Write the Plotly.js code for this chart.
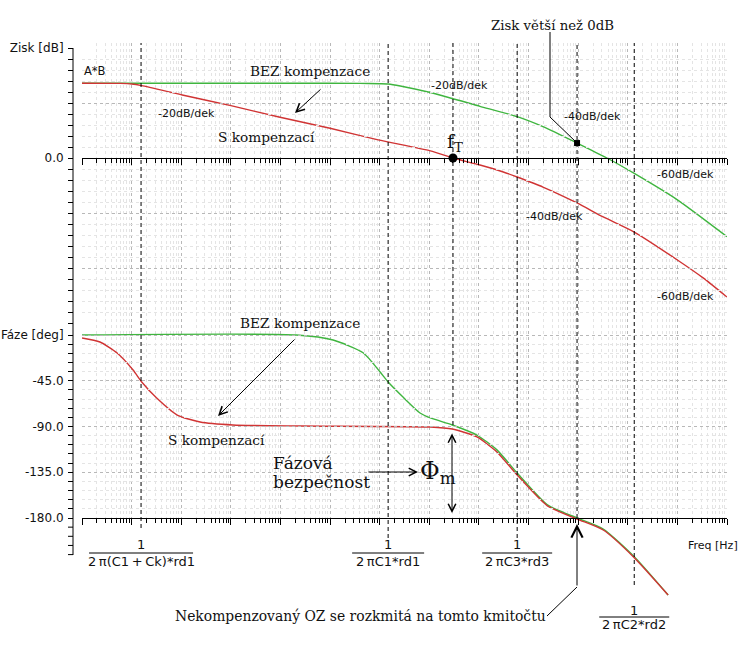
<!DOCTYPE html>
<html><head><meta charset="utf-8">
<script src="https://cdn.plot.ly/plotly-3.0.1.min.js"></script>
<style>html,body{margin:0;padding:0;background:#fff}</style>
</head><body><div id="chart" style="width:751px;height:646px"></div>
<script>
// ---------------- data ----------------
// Gain, without compensation (BEZ kompenzace) [Hz, dB]
const freqBezGain = [1, 2.5e4, 4.0e5, 1.0e6, 1.48e6, 2.6e6, 1.05e7, 1.05e8, 5.9e8, 1.95e9, 9.5e9, 3.8e10, 1.35e11, 1.0e12, 1.0e13];
const gainBez     = [68, 68, 67.8, 67.5, 67.3, 65.5, 59.5, 47, 37.6, 28.5, 13.6, 0, -14, -38, -71.5];
// Gain, with compensation (S kompenzací)
const freqSGain = [1, 5.9, 10, 16, 105, 955, 9.8e3, 1.0e5, 9.3e5, 1.05e7, 3.0e7, 1.05e8, 3.1e8, 5.9e8, 1.95e9, 9.5e9, 3.2e10, 1.35e11, 1.0e12, 3.3e12, 1.0e13];
const gainS     = [68, 67.8, 67.3, 65.8, 57.3, 47.8, 37, 27, 16.5, 6.5, 0, -6.4, -12.7, -17.3, -26.4, -40.9, -53.6, -67.3, -92.7, -109, -126.4];
// Phase, without compensation [Hz, deg]
const freqBezPhase = [1, 2.1e4, 1.15e5, 4.7e5, 1.02e6, 1.48e6, 2.95e6, 6.5e6, 1.05e7, 2.9e7, 9.1e7, 2.3e8, 5.9e8, 2.4e9, 9.5e9, 3.2e10, 1.35e11, 6.5e11];
const phaseBez     = [0, 0, -4.9, -17.7, -36.4, -46.2, -61, -76.7, -81.6, -88.5, -98.4, -113, -135.7, -167, -180, -190.8, -218, -255.7];
// Phase, with compensation
const freqSPhase = [1, 2.3, 5.1, 10.7, 16, 32, 83, 240, 1.1e3, 2.5e4, 1.05e7, 2.9e7, 9.1e7, 2.3e8, 5.9e8, 2.4e9, 9.5e9, 3.2e10, 1.35e11, 6.5e11];
const phaseS     = [-3, -6.9, -17.7, -34.4, -46.2, -62, -78.7, -85.6, -88.5, -89.5, -90.5, -92.5, -100.3, -115, -137.7, -168, -181, -191.8, -219, -255.7];
// Pole / marker frequencies (dashed lines)
const poleFreqs = [15.5, 1.48e6, 3.0e7, 5.9e8, 9.5e9, 1.35e11];
// f_T point and "gain > 0 dB" point
const fTFreq = [3.0e7], fTGain = [0];
const sqFreq = [9.5e9], sqGain = [13.6];
// Tick labels
const gainTickVals = [-150, -100, -50, 0, 50, 100];
const gainTickText = ['', '', '', '0.0', '', 'Zisk [dB]'];
const phaseTickVals = [0, -45, -90, -135, -180];
const phaseTickText = ['Fáze [deg]', '-45.0', '-90.0', '-135.0', '-180.0'];
const slopeLabels = ['-20dB/dek', '-20dB/dek', '-40dB/dek', '-60dB/dek', '-40dB/dek', '-60dB/dek'];
const fracDenoms = ['2\u2009π(C1\u2009+\u2009Ck)*rd1', '2\u2009πC1*rd1', '2\u2009πC3*rd3', '2\u2009πC2*rd2'];

// ---------------- layout helpers ----------------
const L = 73, R = 727, T = 43, B = 600;
const px = x => (x - L) / (R - L);
const py = y => (B - y) / (B - T);
const xdom = [px(82), 1];
const decadePx = (R - 82) / 13;
const sans = 'DejaVu Sans, sans-serif';
const serif = 'DejaVu Serif, serif';
const GREEN = '#3fb53f', RED = '#d03434';
const degPx = 183 / 180;

const decades = []; for (let k = 0; k <= 13; k++) decades.push(Math.pow(10, k));
const minorVals = []; for (let k = 0; k <= 12; k++) for (let m = 2; m <= 9; m++) minorVals.push(m * Math.pow(10, k));
const gainMinor = []; for (let v = -150; v <= 100; v += 10) gainMinor.push(v);
const phaseMinor = []; for (let v = -180; v <= 0; v += 9) phaseMinor.push(v);

const dummy = (xa, ya, yv) => ({x: [1], y: [yv], xaxis: xa, yaxis: ya, mode: 'markers', marker: {opacity: 0}, hoverinfo: 'skip', showlegend: false});
const curve = (xs, ys, ya, col) => ({x: xs, y: ys, xaxis: 'x2', yaxis: ya, mode: 'lines', line: {color: col, width: 1.4, shape: 'spline', smoothing: 0.6}, hoverinfo: 'skip', showlegend: false});

const traces = [
  dummy('x', 'y3', 0.5),
  dummy('x3', 'y', 0),
  dummy('x4', 'y2', -90),
  curve(freqBezGain, gainBez, 'y', GREEN),
  curve(freqSGain, gainS, 'y', RED),
  curve(freqBezPhase, phaseBez, 'y2', GREEN),
  curve(freqSPhase, phaseS, 'y2', RED),
  {x: fTFreq, y: fTGain, xaxis: 'x2', yaxis: 'y', mode: 'markers', marker: {color: '#000', size: 9, symbol: 'circle'}, showlegend: false, hoverinfo: 'skip'},
  {x: sqFreq, y: sqGain, xaxis: 'x2', yaxis: 'y', mode: 'markers', marker: {color: '#000', size: 6, symbol: 'square'}, showlegend: false, hoverinfo: 'skip'}
];

const lineAxis = pos => ({type: 'log', range: [0, 13], domain: xdom, anchor: 'free', position: pos, side: 'bottom',
  showline: true, linecolor: '#000', linewidth: 1, ticks: 'outside', ticklen: 6, tickwidth: 1, tickcolor: '#000',
  tickmode: 'array', tickvals: decades, showticklabels: false, showgrid: false, zeroline: false,
  minor: {tickmode: 'array', tickvals: minorVals, ticks: 'outside', ticklen: 4, tickwidth: 1, tickcolor: '#000', showgrid: false}});

// shapes
const shapes = [];
const dashBottoms = [528, 538, 425, 538, 518, 585];
poleFreqs.forEach((f, i) => shapes.push({type: 'line', xref: 'x', yref: 'paper', x0: f, x1: f, y0: py(dashBottoms[i]), y1: py(43), line: {color: '#000', width: 1, dash: '4px,3px'}}));
// y axis line & extra ticks below -180
shapes.push({type: 'line', xref: 'paper', yref: 'paper', x0: 0, x1: 0, y0: py(555), y1: py(48), line: {color: '#000', width: 1}});
[-189, -198, -207, -216].forEach(v => shapes.push({type: 'line', xref: 'paper', yref: 'y2', x0: px(68), x1: 0, y0: v, y1: v, line: {color: '#000', width: 1}}));
// leader lines
const seg = (x0, y0, x1, y1) => shapes.push({type: 'line', xref: 'paper', yref: 'paper', x0: px(x0), y0: py(y0), x1: px(x1), y1: py(y1), line: {color: '#000', width: 1}});
seg(550, 32, 550, 117); seg(550, 117, 576, 142);
seg(547, 616, 577, 587);

// fractions
const fracPoles = [0, 1, 3, 5];
const fracHalf = [52, 36, 35, 35];
const fracY = [[544, 553, 561], [544, 553, 561], [544, 553, 561], [610, 617, 624]];
const annotations = [];
fracPoles.forEach((pi, i) => {
  const f = poleFreqs[pi];
  const k = Math.pow(10, fracHalf[i] / decadePx);
  shapes.push({type: 'line', xref: 'x', x0: f / k, x1: f * k, yref: 'paper', y0: py(fracY[i][1]), y1: py(fracY[i][1]), line: {color: '#000', width: 1}});
  annotations.push({xref: 'x', yref: 'paper', x: Math.log10(f), y: py(fracY[i][0]), text: '1', showarrow: false, xanchor: 'center', yanchor: 'middle', font: {family: sans, size: 13, color: '#111'}});
  annotations.push({xref: 'x', yref: 'paper', x: Math.log10(f), y: py(fracY[i][2]), text: fracDenoms[i], showarrow: false, xanchor: 'center', yanchor: 'middle', font: {family: sans, size: 13, color: '#111'}});
});

const txt = (t, x, y, fam, size, anchor) => annotations.push({xref: 'paper', yref: 'paper', x: px(x), y: py(y), text: t, showarrow: false, xanchor: anchor || 'left', yanchor: 'middle', font: {family: fam, size: size, color: '#111'}, borderpad: 0});
// sans labels
txt('A*B', 83, 71, sans, 11.5);
const slopePos = [[157, 113], [430, 85], [563, 117], [656, 175], [525, 216], [656, 296]];
slopeLabels.forEach((s, i) => txt(s, slopePos[i][0], slopePos[i][1], sans, 11));
txt('Freq [Hz]', 687, 545, sans, 11);
// serif labels
txt('BEZ kompenzace', 249, 71, serif, 13.7);
txt('S kompenzací', 217, 137, serif, 13.7);
txt('Zisk větší než 0dB', 490, 25, serif, 13.3);
txt('BEZ kompenzace', 239, 323, serif, 13.7);
txt('S kompenzací', 167, 440, serif, 13.7);
txt('Fázová', 272, 463, serif, 17);
txt('bezpečnost', 272, 482, serif, 17);
txt('Nekompenzovaný OZ se rozkmitá na tomto kmitočtu', 174, 616, serif, 13.9);
txt('f<sub>T</sub>', 446, 142, serif, 19);
txt('Φ<sub>m</sub>', 419, 472, serif, 24);

// arrows
const arrow = (hx, hy, tx, ty, size, both) => annotations.push({xref: 'paper', yref: 'paper', x: px(hx), y: py(hy), ax: tx - hx, ay: ty - hy, text: '', showarrow: true, arrowhead: 5, startarrowhead: 5, arrowside: both ? 'end+start' : 'end', arrowsize: size, startarrowsize: size, arrowwidth: 1, arrowcolor: '#000', standoff: 0, startstandoff: 0});
arrow(295, 113, 322, 88, 1.6);
arrow(218, 416, 296, 338, 1.6);
arrow(418, 472, 367, 472, 1.5);
arrow(452, 513, 452, 432, 1.5, true);
arrow(577, 524, 577, 587, 2.2);

const phaseTopPx = 330;
const layout = {
  width: 751, height: 646,
  margin: {l: L, r: 751 - R, t: T, b: 646 - B, pad: 0},
  paper_bgcolor: '#fff', plot_bgcolor: 'rgba(0,0,0,0)', showlegend: false,
  font: {family: sans, size: 11, color: '#111'},
  xaxis: {type: 'log', range: [0, 13], domain: xdom, anchor: 'y3', tickmode: 'array', tickvals: decades, showticklabels: false, ticks: '', showline: false, zeroline: false,
    showgrid: true, gridcolor: '#b8b8b8', griddash: 'dot', gridwidth: 1,
    minor: {tickmode: 'array', tickvals: minorVals, ticks: '', showgrid: true, gridcolor: '#e4e4e4', gridwidth: 1}},
  yaxis3: {domain: [py(518), py(43)], range: [0, 1], anchor: 'x', showgrid: false, zeroline: false, showticklabels: false, ticks: '', showline: false},
  xaxis2: {type: 'log', range: [0, 13], domain: xdom, anchor: 'y', showgrid: false, zeroline: false, showticklabels: false, ticks: '', showline: false},
  xaxis3: lineAxis(py(158)),
  xaxis4: lineAxis(py(518)),
  yaxis: {domain: [py(323), py(48)], range: [-150, 100], anchor: 'free', position: 0, side: 'left',
    tickmode: 'array', tickvals: gainTickVals, ticktext: gainTickText, ticks: 'outside', ticklen: 5, tickwidth: 1, tickcolor: '#000',
    showline: false, zeroline: false, showgrid: true, gridcolor: '#b8b8b8', griddash: 'dot', gridwidth: 1,
    tickfont: {family: sans, size: 12, color: '#111'}, ticklabelstandoff: 2,
    minor: {tickmode: 'array', tickvals: gainMinor, ticks: 'outside', ticklen: 5, tickwidth: 1, tickcolor: '#000', showgrid: true, gridcolor: '#e4e4e4', gridwidth: 1}},
  yaxis2: {domain: [0, py(phaseTopPx)], range: [-(B - 335) / degPx, (335 - phaseTopPx) / degPx], anchor: 'free', position: 0, side: 'left',
    tickmode: 'array', tickvals: phaseTickVals, ticktext: phaseTickText, ticks: 'outside', ticklen: 5, tickwidth: 1, tickcolor: '#000',
    showline: false, zeroline: false, showgrid: true, gridcolor: '#b8b8b8', griddash: 'dot', gridwidth: 1,
    tickfont: {family: sans, size: 12, color: '#111'}, ticklabelstandoff: 2,
    minor: {tickmode: 'array', tickvals: phaseMinor, ticks: 'outside', ticklen: 5, tickwidth: 1, tickcolor: '#000', showgrid: true, gridcolor: '#e4e4e4', gridwidth: 1}},
  shapes: shapes,
  annotations: annotations
};

Plotly.newPlot('chart', traces, layout, {staticPlot: true, displayModeBar: false});
</script>
</body></html>
